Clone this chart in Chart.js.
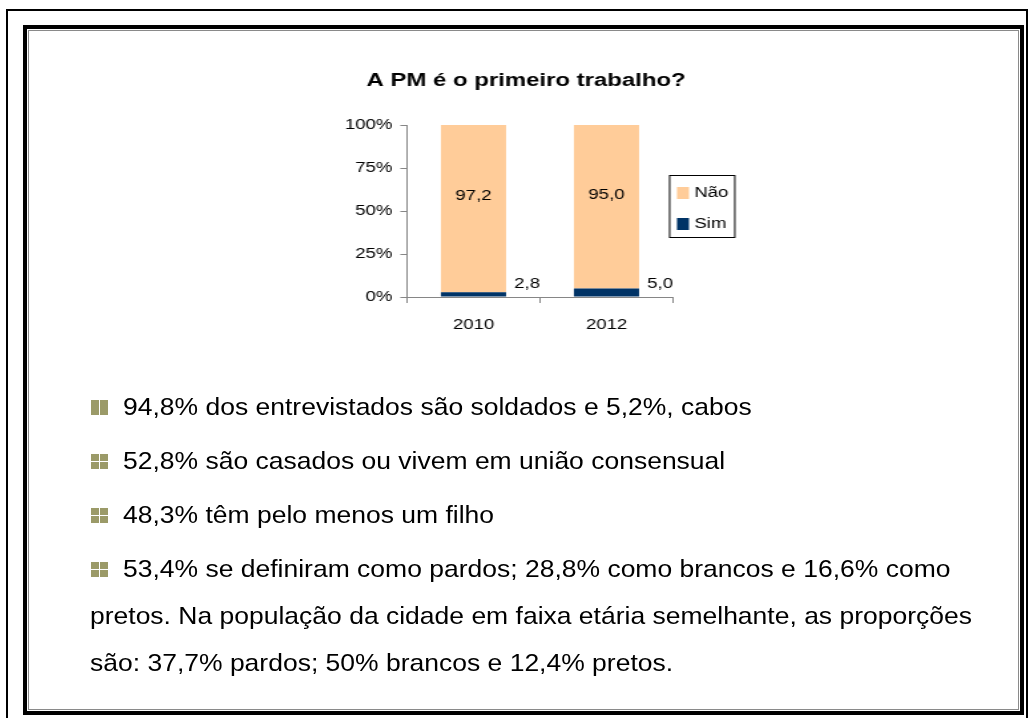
<!DOCTYPE html>
<html>
<head>
<meta charset="utf-8">
<script src="https://cdn.jsdelivr.net/npm/chart.js@4.4.1/dist/chart.umd.min.js"></script>
<style>
  body { margin: 0; background: #fff; width: 1031px; height: 718px; overflow: hidden; position: relative; font-family: "Liberation Sans", Arial, sans-serif; }
  .outer { position: absolute; left: 6px; top: 9px; width: 1022px; height: 740px; border: 2px solid #000; box-sizing: border-box; }
  .inner { position: absolute; left: 23px; top: 25px; width: 1001px; height: 690px; border: 4px solid #000; box-sizing: border-box; background: #fff; }
  .inner2 { position: absolute; left: 1px; top: 1px; right: 1px; bottom: 1px; border: 1px solid #8a8a8a; }
  #chartWrap { position: absolute; left: 300px; top: 60px; width: 340px; height: 290px; transform: scaleX(1.33); transform-origin: 0 0; }
  .txt { position: absolute; left: 0; top: 0; width: 1031px; height: 718px; }
  .line { position: absolute; font-size: 24.6px; line-height: 24.6px; color: #000; white-space: nowrap; transform: scaleX(1.077); transform-origin: 0 0; }
  .bul { position: absolute; width: 17px; height: 15px; }
  .bul span { position: absolute; background: #9b9a68; }
</style>
</head>
<body>
<div class="outer"></div>
<div class="inner"><div class="inner2"></div></div>
<div id="chartWrap"><canvas id="myChart" width="340" height="290"></canvas></div>
<div class="txt" id="txt"></div>
<script>
// chart data
const chartTitle = "A PM é o primeiro trabalho?";
const years = ["2010", "2012"];
const naoValues = [97.2, 95.0];
const simValues = [2.8, 5.0];
const seriesNames = ["Não", "Sim"];
const seriesColors = ["#FFCC99", "#003366"];

// bullet text lines
const bulletLines = [
  ["94,8% dos entrevistados são soldados e 5,2%, cabos"],
  ["52,8% são casados ou vivem em união consensual"],
  ["48,3% têm pelo menos um filho"],
  ["53,4% se definiram como pardos; 28,8% como brancos e 16,6% como",
   "pretos. Na população da cidade em faixa etária semelhante, as proporções",
   "são: 37,7% pardos; 50% brancos e 12,4% pretos."]
];

const fmt = v => v.toFixed(1).replace(".", ",");
const FONT = "Liberation Sans, Arial, sans-serif";

// text block
const txt = document.getElementById("txt");
let yPos = 395;
bulletLines.forEach((para, p) => {
  const b = document.createElement("div");
  b.className = "bul";
  b.style.left = "91px";
  b.style.top = (yPos + 5) + "px";
  if (p === 0) {
    b.innerHTML = '<span style="left:0;top:0;width:8px;height:15px"></span><span style="left:9px;top:0;width:8px;height:15px"></span>';
  } else {
    b.innerHTML = '<span style="left:0;top:0;width:8px;height:7px"></span><span style="left:9px;top:0;width:8px;height:7px"></span>' +
      '<span style="left:0;top:8px;width:8px;height:7px"></span><span style="left:9px;top:8px;width:8px;height:7px"></span>';
  }
  txt.appendChild(b);
  para.forEach((s, i) => {
    const d = document.createElement("div");
    d.className = "line";
    d.textContent = s;
    d.style.left = (i === 0 ? 123 : 90) + "px";
    d.style.top = yPos + "px";
    txt.appendChild(d);
    yPos += (i < para.length - 1) ? 47 : 54;
  });
});

// value labels
const labelPlugin = {
  id: "valueLabels",
  afterDatasetsDraw(chart) {
    const ctx = chart.ctx;
    ctx.save();
    ctx.font = "14px " + FONT;
    ctx.fillStyle = "#000";
    ctx.textBaseline = "middle";
    chart.getDatasetMeta(1).data.forEach((bar, i) => {
      ctx.textAlign = "center";
      ctx.fillText(fmt(naoValues[i]), bar.x, (bar.y + bar.base) / 2 - 12);
    });
    chart.getDatasetMeta(0).data.forEach((bar, i) => {
      ctx.textAlign = "left";
      ctx.fillText(fmt(simValues[i]), bar.x + bar.width / 2 + 6, bar.base - 12);
    });
    ctx.restore();
  }
};

// boxed legend
const legendPlugin = {
  id: "boxLegend",
  afterDraw(chart) {
    const ctx = chart.ctx;
    const a = chart.chartArea;
    const bx = a.right - 3, by = a.top + 50, bw = 49, bh = 62;
    ctx.save();
    ctx.strokeStyle = "#000";
    ctx.lineWidth = 1;
    ctx.strokeRect(bx + 0.5, by + 0.5, bw, bh);
    ctx.font = "14px " + FONT;
    ctx.textBaseline = "middle";
    ctx.textAlign = "left";
    const order = [1, 0];
    order.forEach((di, k) => {
      const ds = chart.data.datasets[di];
      const sy = by + 12 + k * 31;
      ctx.fillStyle = ds.backgroundColor;
      ctx.fillRect(bx + 6, sy, 9, 12);
      ctx.fillStyle = "#000";
      ctx.fillText(ds.label, bx + 19, sy + 6);
    });
    ctx.restore();
  }
};

const data = {
  labels: years,
  datasets: [
    { label: seriesNames[1], data: simValues, backgroundColor: seriesColors[1], barPercentage: 0.49, categoryPercentage: 1 },
    { label: seriesNames[0], data: naoValues, backgroundColor: seriesColors[0], barPercentage: 0.49, categoryPercentage: 1 }
  ]
};

const config = {
  type: "bar",
  data: data,
  options: {
    responsive: false,
    animation: false,
    devicePixelRatio: 1,
    layout: { padding: 0 },
    plugins: {
      legend: { display: false },
      tooltip: { enabled: false },
      title: {
        display: true,
        text: chartTitle,
        color: "#000",
        font: { family: FONT, size: 18, weight: "bold" },
        padding: { top: 10.5, bottom: 32.9 }
      }
    },
    scales: {
      x: {
        stacked: true,
        grid: { offset: true, drawOnChartArea: false, drawTicks: true, tickLength: 6, color: "#868686" },
        border: { color: "#868686" },
        ticks: { padding: 14, color: "#000", font: { family: FONT, size: 14 } },
        afterFit: s => { s.height = 53; }
      },
      y: {
        stacked: true,
        min: 0,
        max: 100,
        ticks: { stepSize: 25, callback: v => v + "%", padding: 6, color: "#000", font: { family: FONT, size: 14 } },
        grid: { drawOnChartArea: false, drawTicks: true, tickLength: 5, color: "#868686" },
        border: { color: "#868686" },
        afterFit: s => { s.width = 80.45; }
      },
      // empty right axis: room for the boxed legend
      yRight: {
        position: "right",
        display: true,
        grid: { display: false },
        border: { display: false },
        ticks: { display: false },
        afterFit: s => { s.width = 59.55; }
      }
    }
  },
  plugins: [labelPlugin, legendPlugin]
};

const myChart = new Chart(document.getElementById("myChart"), config);
</script>
</body>
</html>
